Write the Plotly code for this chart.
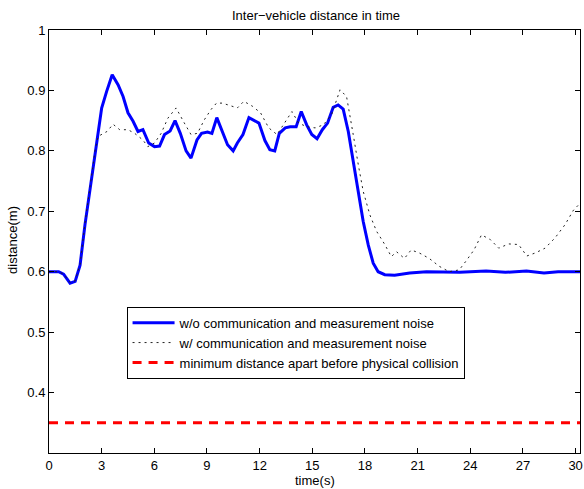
import plotly.graph_objects as go

# Time stamps (s) and inter-vehicle distance (m) without noise
t_clean = [0.0, 0.55, 0.83, 1.2, 1.49, 1.77, 2.05, 2.34, 2.62, 3.0, 3.28, 3.6,
           3.94, 4.22, 4.5, 4.79, 5.07, 5.35, 5.68, 6.01, 6.3, 6.58, 6.9, 7.18,
           7.48, 7.81, 8.09, 8.43, 8.69, 9.03, 9.28, 9.56, 10.17, 10.49, 10.73,
           11.05, 11.39, 11.96, 12.3, 12.58, 12.86, 13.12, 13.46, 13.74, 14.08,
           14.37, 14.68, 14.97, 15.27, 15.57, 15.87, 16.19, 16.47, 16.76, 17.05,
           17.33, 17.62, 17.9, 18.19, 18.47, 18.75, 19.13, 19.69, 20.55, 21.5,
           22.4, 23.4, 24.9, 26.0, 27.2, 27.7, 28.2, 29.0, 30.25]
d_clean = [0.600, 0.600, 0.596, 0.581, 0.584, 0.611, 0.678, 0.738, 0.799, 0.871,
           0.898, 0.926, 0.909, 0.890, 0.863, 0.849, 0.832, 0.835, 0.813, 0.807,
           0.808, 0.827, 0.833, 0.850, 0.829, 0.800, 0.788, 0.818, 0.829, 0.831,
           0.829, 0.855, 0.810, 0.800, 0.813, 0.827, 0.855, 0.846, 0.817, 0.802,
           0.800, 0.829, 0.838, 0.840, 0.840, 0.865, 0.843, 0.827, 0.820, 0.835,
           0.846, 0.872, 0.876, 0.869, 0.832, 0.782, 0.727, 0.683, 0.644, 0.614,
           0.600, 0.595, 0.594, 0.598, 0.600, 0.599, 0.599, 0.601, 0.599, 0.601,
           0.600, 0.598, 0.600, 0.600]

# Time stamps (s) and inter-vehicle distance (m) with communication/measurement noise
t_noisy = [0.0, 0.55, 0.83, 1.2, 1.49, 1.77, 2.05, 2.34, 2.62, 2.8, 3.3, 3.65,
           4.03, 4.5, 4.88, 5.35, 5.63, 6.01, 6.39, 6.77, 7.24, 7.71, 8.09, 8.46,
           8.84, 9.22, 9.54, 9.88, 10.35, 10.73, 11.1, 11.58, 12.05, 12.52, 12.99,
           13.46, 13.84, 14.22, 14.68, 15.16, 15.63, 16.1, 16.58, 16.95, 17.14,
           17.33, 17.62, 17.9, 18.28, 18.66, 19.13, 19.5, 19.8, 20.25, 20.63,
           21.1, 21.66, 22.23, 22.8, 23.37, 23.74, 24.21, 24.64, 25.15, 25.62,
           26.19, 26.75, 27.22, 27.7, 28.26, 28.83, 29.4, 29.88, 30.25]
d_noisy = [0.600, 0.600, 0.596, 0.582, 0.585, 0.612, 0.680, 0.740, 0.800, 0.824,
           0.832, 0.844, 0.835, 0.835, 0.829, 0.818, 0.807, 0.813, 0.829, 0.854,
           0.871, 0.846, 0.827, 0.829, 0.851, 0.868, 0.879, 0.879, 0.874, 0.871,
           0.882, 0.874, 0.863, 0.838, 0.827, 0.849, 0.865, 0.846, 0.840, 0.838,
           0.843, 0.860, 0.901, 0.890, 0.860, 0.827, 0.777, 0.733, 0.694, 0.667,
           0.645, 0.625, 0.633, 0.622, 0.636, 0.631, 0.622, 0.609, 0.600, 0.603,
           0.617, 0.636, 0.661, 0.653, 0.639, 0.646, 0.645, 0.626, 0.631, 0.639,
           0.656, 0.678, 0.702, 0.713]

# Minimum safe separation
t_min = [0.0, 30.25]
d_min = [0.35, 0.35]

x_ticks = [0, 3, 6, 9, 12, 15, 18, 21, 24, 27, 30]
y_ticks = [0.4, 0.5, 0.6, 0.7, 0.8, 0.9, 1.0]
y_tick_text = ["0.4", "0.5", "0.6", "0.7", "0.8", "0.9", "1"]

FONT = "Liberation Sans, Arial, Helvetica, sans-serif"

fig = go.Figure()
fig.add_trace(go.Scatter(
    x=t_clean, y=d_clean, mode="lines",
    name="w/o communication and measurement noise",
    line=dict(color="#0000FF", width=3),
))
fig.add_trace(go.Scatter(
    x=t_noisy, y=d_noisy, mode="lines",
    name="w/ communication and measurement noise",
    line=dict(color="#222222", width=1, dash="2px,4px"),
))
fig.add_trace(go.Scatter(
    x=t_min, y=d_min, mode="lines",
    name="minimum distance apart before physical collision",
    line=dict(color="#FF0000", width=3, dash="9px,7px"),
))

axis_common = dict(
    showline=True, linecolor="black", linewidth=1, mirror="ticks",
    ticks="inside", ticklen=5, tickwidth=1, tickcolor="black",
    showgrid=False, zeroline=False,
    tickfont=dict(family=FONT, size=13, color="black"),
    ticklabeloverflow="allow",
)

fig.update_layout(
    width=584, height=489,
    margin=dict(l=49, r=1, t=30, b=36),
    paper_bgcolor="white", plot_bgcolor="white",
    font=dict(family=FONT, size=13, color="black"),
    title=dict(text="Inter\u2212vehicle distance in time",
               x=(316 / 584), xanchor="center",
               y=1 - 15 / 489, yanchor="middle",
               font=dict(family=FONT, size=13, color="black")),
    xaxis=dict(range=[0, 30.25], tickvals=x_ticks, **axis_common),
    yaxis=dict(range=[0.3, 1.0], tickvals=y_ticks, ticktext=y_tick_text,
               **axis_common),
    showlegend=True,
    legend=dict(
        x=(127 - 49) / 534, y=(453.3 - 307) / 423,
        xanchor="left", yanchor="top",
        bgcolor="white", bordercolor="black", borderwidth=1,
        font=dict(family=FONT, size=13, color="black"),
        itemwidth=42,
    ),
    annotations=[
        dict(text="time(s)", xref="paper", yref="paper",
             x=0.5, y=-(481 - 453.3) / 423, xanchor="center", yanchor="middle",
             showarrow=False, font=dict(family=FONT, size=13, color="black")),
        dict(text="distance(m)", xref="paper", yref="paper",
             x=(12 - 49) / 534, y=(453.3 - 240) / 423, xanchor="center",
             yanchor="middle", textangle=-90, showarrow=False,
             font=dict(family=FONT, size=13, color="black")),
    ],
)

fig.write_html("out.html")
